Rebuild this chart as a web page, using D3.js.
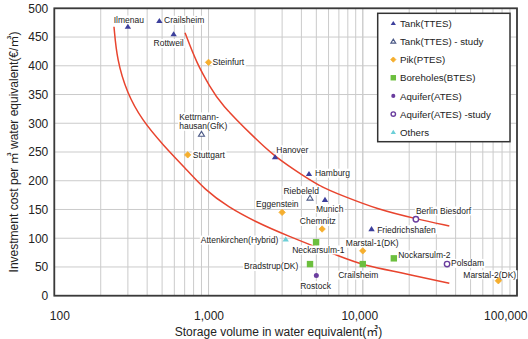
<!DOCTYPE html>
<html>
<head>
<meta charset="utf-8">
<script src="https://cdn.jsdelivr.net/npm/d3@7"></script>
<style>
  html, body { margin: 0; padding: 0; background: #fff; }
  svg { display: block; font-family: "Liberation Sans", Arial, "Noto Sans CJK KR", sans-serif; }
</style>
</head>
<body>
<svg id="chart" width="528" height="339"></svg>
<script>
// Storage projects: [name, volume in m³ water equivalent, investment cost €/m³]
const tank = [
  ["Ilmenau", 300, 468],
  ["Crailsheim", 480, 478],
  ["Rottweil", 594, 455],
  ["Hanover", 2700, 241],
  ["Hamburg", 4480, 212],
  ["Munich", 5690, 167],
  ["Friedrichshafen", 11400, 116]
];
const tankStudy = [
  ["Kettrnann-\nhausan(GfK)", 900, 281],
  ["Riebeleld", 4550, 170]
];
const pit = [
  ["Steinfurt", 1000, 406],
  ["Stuttgart", 733, 245],
  ["Eggenstein", 3000, 145],
  ["Chemnitz", 5450, 116],
  ["Marstal-1(DK)", 10000, 78],
  ["Marstal-2(DK)", 75700, 26]
];
const borehole = [
  ["Neckarsulm-1", 4980, 93],
  ["Bradstrup(DK)", 4550, 55],
  ["Crailsheim", 10000, 55],
  ["Nockarsulm-2", 15900, 65]
];
const aquifer = [
  ["Rostock", 5000, 35]
];
const aquiferStudy = [
  ["Berlin Biesdorf", 22100, 133],
  ["Polsdam", 35200, 55]
];
const others = [
  ["Attenkirchen(Hybrid)", 3165, 98]
];

// Cost trend bands: [volume, cost]
const upperTrend = [
  [704, 457.5], [838, 404.3], [1022, 363.6], [1187, 334.7], [2053, 270.9],
  [2630, 244.8], [3529, 220.4], [5282, 189.6], [7478, 173.5], [12310, 150.8],
  [22140, 133.8], [36400, 121.3]
];
const lowerTrend = [
  [243.8, 468], [255, 410], [296, 352.6], [370, 305.7], [507, 262.2],
  [704, 222.2], [949, 183.9], [1338, 154.3], [2032, 128.2], [3040, 107.3],
  [7670, 64.7], [10040, 53.4], [17440, 40.4], [36400, 21.6]
];

const xTicks = [100, 1000, 10000, 100000];
const yTicks = [0, 50, 100, 150, 200, 250, 300, 350, 400, 450, 500];

const legendLabels = [
  "Tank(TTES)", "Tank(TTES) - study", "Pik(PTES)", "Boreholes(BTES)",
  "Aquifer(ATES)", "Aquifer(ATES) -study", "Others"
];

// ---- layout & style ----
const colors = {
  tank: "#3c3f9c", tankStudy: "#4c5a86", pit: "#f5ae2e", borehole: "#6cbf3e",
  aquifer: "#6a3d9e", aquiferStudy: "#6a3d9e", others: "#6ccfd8", trend: "#e8442e"
};

const series = [
  { key: "tank", data: tank },
  { key: "tankStudy", data: tankStudy },
  { key: "pit", data: pit },
  { key: "borehole", data: borehole },
  { key: "aquifer", data: aquifer },
  { key: "aquiferStudy", data: aquiferStudy },
  { key: "others", data: others }
];

// label anchor and offset from the marker centre (px)
const labelPlace = {
  "tank|Ilmenau": ["middle", 1, -3.7],
  "tank|Crailsheim": ["start", 4.7, 2.3],
  "tank|Rottweil": ["middle", -5, 12.3],
  "tank|Hanover": ["middle", 17.3, -4.3],
  "tank|Hamburg": ["start", 6, 2.3],
  "tank|Munich": ["middle", 4.7, 12],
  "tank|Friedrichshafen": ["start", 5.6, 3.7],
  "tankStudy|Kettrnann-\nhausan(GfK)": ["start", -22.3, -14.3],
  "tankStudy|Riebeleld": ["middle", -8.8, -4.3],
  "pit|Steinfurt": ["start", 4, 3],
  "pit|Stuttgart": ["start", 5, 3],
  "pit|Eggenstein": ["middle", -4.8, -5],
  "pit|Chemnitz": ["middle", -4.3, -4.6],
  "pit|Marstal-1(DK)": ["middle", 9.5, -4.7],
  "pit|Marstal-2(DK)": ["middle", -8.6, -3],
  "borehole|Neckarsulm-1": ["middle", 2.3, 10.7],
  "borehole|Bradstrup(DK)": ["end", -11.7, 5.4],
  "borehole|Crailsheim": ["middle", -4.5, 14],
  "borehole|Nockarsulm-2": ["start", 4.3, -0.3],
  "aquifer|Rostock": ["middle", -0.8, 13],
  "aquiferStudy|Berlin Biesdorf": ["start", 0, -5.3],
  "aquiferStudy|Polsdam": ["start", 4, 2.3],
  "others|Attenkirchen(Hybrid)": ["end", -7.4, 3.7]
};

const plot = { left: 54.3, right: 517, top: 8.3, bottom: 295.7 };

const svg = d3.select("#chart");
const x = d3.scaleLog().domain([100, 100000]).range([plot.left, plot.right]);
const y = d3.scaleLinear().domain([0, 500]).range([plot.bottom, plot.top]);

// ---- grid ----
const minorX = [];
for (let d = 100; d < 100000; d *= 10) {
  for (let m = 1; m <= 10; m++) minorX.push(d * m);
}
const grid = svg.append("g").attr("stroke", "#cbcbcb").attr("stroke-width", 1);
grid.selectAll("line.v").data(minorX).join("line")
  .attr("x1", d => x(d)).attr("x2", d => x(d))
  .attr("y1", plot.top).attr("y2", plot.bottom);
grid.selectAll("line.h").data(yTicks).join("line")
  .attr("x1", plot.left).attr("x2", plot.right)
  .attr("y1", d => y(d)).attr("y2", d => y(d));

// ---- axes ----
const xAxis = svg.append("g")
  .attr("transform", `translate(0,${plot.bottom})`)
  .call(d3.axisBottom(x).tickValues(xTicks).tickFormat(d3.format(",")).tickSize(0).tickPadding(15.5));
xAxis.select(".domain").remove();
xAxis.selectAll("text").attr("font-size", 12).attr("fill", "#222")
  .attr("font-family", "'Liberation Sans', Arial, sans-serif");
xAxis.selectAll("text").filter(d => d === 100).attr("text-anchor", "start").attr("dx", -5);
xAxis.selectAll("text").filter(d => d === 100000).attr("text-anchor", "end").attr("dx", 10);
xAxis.selectAll("text").filter(d => d === 10000).attr("dx", -3.5);

const yAxis = svg.append("g")
  .attr("transform", `translate(${plot.left},0)`)
  .call(d3.axisLeft(y).tickValues(yTicks).tickSize(0).tickPadding(6));
yAxis.select(".domain").remove();
yAxis.selectAll("text").attr("font-size", 12).attr("fill", "#222")
  .attr("font-family", "'Liberation Sans', Arial, sans-serif");

// frame
svg.append("rect")
  .attr("x", plot.left).attr("y", plot.top)
  .attr("width", plot.right - plot.left).attr("height", plot.bottom - plot.top)
  .attr("fill", "none").attr("stroke", "#3a3a3a").attr("stroke-width", 1.8);

// axis titles
svg.append("text")
  .attr("x", 278.5).attr("y", 335.5)
  .attr("text-anchor", "middle").attr("font-size", 12).attr("fill", "#222")
  .text("Storage volume in water equivalent(㎥)");
svg.append("text")
  .attr("transform", "translate(17.5,152) rotate(-90)")
  .attr("text-anchor", "middle").attr("font-size", 12).attr("fill", "#222")
  .text("Investment cost per ㎥ water equivalent(€/㎥)");

// ---- trend curves ----
const trendLine = d3.line().x(d => x(d[0])).y(d => y(d[1])).curve(d3.curveBasis);
svg.append("g").selectAll("path").data([upperTrend, lowerTrend]).join("path")
  .attr("d", trendLine)
  .attr("fill", "none").attr("stroke", colors.trend).attr("stroke-width", 1.5);

// ---- marker shapes ----
function marker(g, kind, cx, cy, s) {
  const c = colors[kind];
  if (kind === "tank" || kind === "others") {
    const w = 3.2 * s, h = 2.9 * s;
    g.append("path")
      .attr("d", `M${cx},${cy - h} L${cx + w},${cy + h * 0.75} L${cx - w},${cy + h * 0.75} Z`)
      .attr("fill", c);
  } else if (kind === "tankStudy") {
    const w = 3 * s, h = 2.8 * s;
    g.append("path")
      .attr("d", `M${cx},${cy - h} L${cx + w},${cy + h * 0.75} L${cx - w},${cy + h * 0.75} Z`)
      .attr("fill", "#fff").attr("stroke", c).attr("stroke-width", 1.1);
  } else if (kind === "pit") {
    const r = 3.2 * s;
    g.append("path")
      .attr("d", `M${cx},${cy - r} L${cx + r},${cy} L${cx},${cy + r} L${cx - r},${cy} Z`)
      .attr("fill", c).attr("stroke", c).attr("stroke-width", 0.8).attr("stroke-linejoin", "round");
  } else if (kind === "borehole") {
    const a = 6.4 * s;
    g.append("rect").attr("x", cx - a / 2).attr("y", cy - a / 2)
      .attr("width", a).attr("height", a).attr("fill", c);
  } else if (kind === "aquifer") {
    g.append("circle").attr("cx", cx).attr("cy", cy).attr("r", 2.5 * s).attr("fill", c);
  } else if (kind === "aquiferStudy") {
    g.append("circle").attr("cx", cx).attr("cy", cy).attr("r", 2.7 * s)
      .attr("fill", "#fff").attr("stroke", c).attr("stroke-width", 1.4);
  }
}

// ---- point labels (white backing hides grid and curves) ----
const labelLayer = svg.append("g")
  .attr("font-size", 8.5).attr("fill", "#222");
series.forEach(sr => {
  sr.data.forEach(([name, vol, cost]) => {
    const [anchor, dx, dy] = labelPlace[`${sr.key}|${name}`];
    const px = x(vol) + dx, py = y(cost) + dy;
    const lg = labelLayer.append("g");
    const bg = lg.append("rect").attr("fill", "#fff");
    const t = lg.append("text").attr("text-anchor", anchor);
    name.split("\n").forEach((line, i) => {
      t.append("tspan").attr("x", px).attr("y", py + i * 9.4).text(line);
    });
    const b = t.node().getBBox();
    bg.attr("x", b.x - 1).attr("y", b.y + 0.5).attr("width", b.width + 2).attr("height", b.height - 1);
  });
});

// ---- markers ----
const markLayer = svg.append("g");
series.forEach(sr => {
  sr.data.forEach(([, vol, cost]) => marker(markLayer, sr.key, x(vol), y(cost), 1));
});

// ---- legend ----
const legend = svg.append("g");
legend.append("rect")
  .attr("x", 377.7).attr("y", 13.3).attr("width", 132.3).attr("height", 128.4)
  .attr("fill", "#fff").attr("stroke", "#333").attr("stroke-width", 1.5);
series.forEach((sr, i) => {
  const cy = 23.3 + i * 18.15;
  const scale = sr.key === "borehole" ? 0.85 : 0.82;
  marker(legend, sr.key, 393.3, cy, scale);
  legend.append("text")
    .attr("x", 400).attr("y", cy + 3.6)
    .attr("font-size", 9.7).attr("fill", "#222")
    .text(legendLabels[i]);
});
</script>
</body>
</html>
